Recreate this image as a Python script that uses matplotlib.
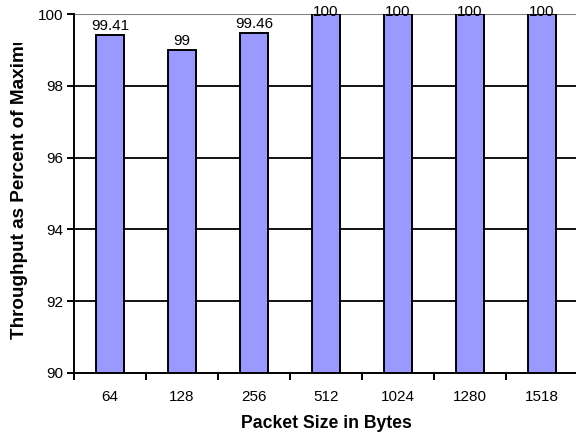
import matplotlib
matplotlib.use("Agg")
import matplotlib.pyplot as plt
import numpy as np
from matplotlib.transforms import Bbox

categories = ["64", "128", "256", "512", "1024", "1280", "1518"]
values = [99.41, 99, 99.46, 100, 100, 100, 100]
value_labels = ["99.41", "99", "99.46", "100", "100", "100", "100"]
yticks = [90, 92, 94, 96, 98, 100]

plt.rcParams["font.family"] = ["Liberation Sans", "DejaVu Sans"]

W, H = 576, 433
fig = plt.figure(figsize=(W / 100, H / 100), dpi=100)
ax = fig.add_axes([74 / W, 60 / H, 504 / W, 359 / H])

x = np.arange(len(categories))
ax.bar(x, [v - 90 for v in values], bottom=90, width=0.39,
       color="#9999FF", edgecolor="black", linewidth=1.4, zorder=3)

labels = []
for xi, v, lab in zip(x, values, value_labels):
    t = ax.annotate(lab, (xi, v), xytext=(0, 1.5), textcoords="offset points",
                    ha="center", va="bottom", fontsize=11, zorder=4,
                    annotation_clip=False)
    labels.append(t)

ax.set_xlim(-0.5, len(categories) - 0.5)
ax.set_ylim(90, 100)
ax.set_yticks(yticks)
ax.set_yticklabels([str(t) for t in yticks], fontsize=11)
ax.set_xticks(x)
ax.set_xticklabels(categories, fontsize=11)
ax.set_xticks(np.arange(len(categories) + 1) - 0.5, minor=True)
ax.tick_params(axis="x", which="major", length=0, pad=12)
ax.tick_params(axis="x", which="minor", length=5, width=1.4, direction="out")
ax.tick_params(axis="y", length=5, width=1.4, direction="out", pad=3)

for t in yticks[1:-1]:
    ax.axhline(t, color="black", linewidth=1.3, zorder=1)
ax.axhline(100, color="#808080", linewidth=1.5, zorder=1)

for s in ["top", "right"]:
    ax.spines[s].set_visible(False)
ax.spines["left"].set_linewidth(1.4)
ax.spines["bottom"].set_linewidth(1.4)

ax.set_xlabel("Packet Size in Bytes", fontsize=12.7, fontweight="bold", labelpad=8)

ylab = fig.text(20 / W, 1 - 339 / H, "Throughput as Percent of Maximum",
                rotation=90, ha="center", va="bottom", fontsize=13.6,
                fontweight="bold")

fig.canvas.draw()
renderer = fig.canvas.get_renderer()

# keep value labels inside the chart area (pushed down near the top edge)
for t in labels:
    bb = t.get_window_extent(renderer)
    top_limit = H - 5
    if bb.y1 > top_limit:
        shift_pts = (bb.y1 - top_limit) * 72 / fig.dpi
        ox, oy = t.xyann
        t.xyann = (ox, oy - shift_pts)

# the axis title is cut off where its box ends
ylab.set_clip_box(Bbox.from_extents(0, 0, 70, H - 43))
ylab.set_clip_on(True)

fig.savefig("out.png", dpi=100)
